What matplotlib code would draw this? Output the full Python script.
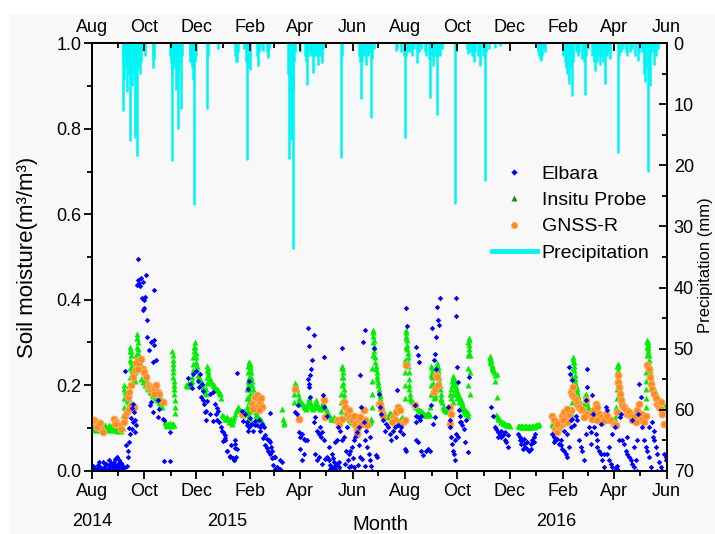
import numpy as np
import pandas as pd
import matplotlib
matplotlib.use("Agg")
import matplotlib.pyplot as plt
import matplotlib.dates as mdates
from matplotlib.lines import Line2D
from matplotlib.patches import Rectangle

START = pd.Timestamp("2014-08-01")

# Elbara radiometer retrievals: (day since 1 Aug 2014, soil moisture m3/m3)
ELBARA = [
    (0.0, .004), (2.3, .009), (3.1, .002), (5.1, .002), (7.0, .014), (9.0, .020), (10.1, .008),
    (11.7, .002), (12.8, .020), (14.8, .006), (16.7, .016), (18.7, .004), (20.6, .024), (21.8, .005),
    (23.3, .012), (25.7, .020), (27.2, .028), (28.4, .008), (29.6, .032), (31.1, .016), (32.3, .024),
    (33.5, .008), (35.0, .012), (36.2, .004), (38.1, .006), (41.2, .011),
    (1.5, .012), (4.2, .006), (6.1, .003), (8.3, .010), (13.6, .004), (15.9, .011), (17.5, .002),
    (19.6, .013), (22.4, .018), (24.5, .004), (26.4, .014), (30.3, .006), (34.1, .018), (37.0, .010),
    (39, .233), (40.5, .060), (42, .045), (43, .067), (44, .100), (45, .086), (45.5, .124), (46.5, .147),
    (48, .155), (49, .137), (50, .090), (51, .118), (52, .108), (42.8, .032), (46.7, .098), (47.8, .114),
    (52.9, .434), (53.7, .446), (54.5, .495), (55.6, .438), (56.8, .431), (57.6, .450), (58.3, .403),
    (59.5, .442), (59.5, .376), (60.7, .399), (61.5, .380), (62.2, .407), (63.4, .458), (64.6, .352),
    (73.1, .423), (64.6, .313), (67.3, .282), (69.2, .301), (72.3, .305), (73.1, .294), (71.2, .255),
    (75.1, .258), (69.2, .161), (71.2, .137), (68.5, .153), (77.0, .165), (79.0, .145), (77.8, .126),
    (82.9, .122), (84.8, .118), (91.8, .090), (84.0, .022), (91.8, .022),
    (112.4, .218), (114.3, .202), (116.3, .194), (118.2, .226), (122.1, .233), (124.1, .210), (126.0, .226),
    (128.0, .202), (129.9, .186), (130.7, .155), (133.0, .140), (133.8, .163), (137.7, .132), (141.6, .116),
    (145.5, .147), (147.4, .139), (151.3, .093), (153.2, .069), (155.2, .077), (157.1, .046), (161.0, .034),
    (164.9, .030), (166.8, .053), (169.6, .229), (174.6, .140), (176.6, .116), (180.5, .108), (184.4, .124),
    (188.2, .093), (190.2, .116), (192.1, .108), (196.0, .093), (199.9, .077), (201.9, .061), (203.8, .054),
    (205.7, .046), (207.7, .038), (209.6, .030), (211.6, .014), (213.5, .003), (215.5, .007), (217.4, .000),
    (219.4, .003), (182.5, .190), (183.5, .210),
    (125.6, .196), (127.6, .172), (129.5, .165), (131.5, .137), (133.4, .118), (137.3, .180), (141.2, .184),
    (143.1, .157), (145.1, .133), (146.3, .118), (147.8, .114), (150.9, .102), (152.9, .090), (154.8, .083),
    (155.6, .071), (158.0, .047), (160.7, .032), (162.6, .059), (165.7, .024), (167.3, .071),
    (167.3, .063), (169.2, .051), (165.3, .024), (168.1, .032), (179.0, .133), (180.9, .114), (182.9, .102),
    (184.8, .106), (182.1, .094), (186.7, .110), (190.6, .106), (194.5, .118), (196.5, .102), (198.4, .110),
    (200.4, .102), (202.3, .083), (204.2, .075), (206.2, .071), (208.1, .135), (208.1, .067), (209.3, .055),
    (210.1, .047), (212.0, .032), (214.0, .033), (215.9, .008), (217.9, .000), (219.8, .024), (221.8, .020),
    (237.3, .137), (239.3, .133), (240.4, .153), (241.2, .090), (243.1, .079), (245.1, .086), (247.0, .075),
    (249.0, .071), (243.1, .051), (247.0, .040), (245.1, .024), (250.9, .071), (252.1, .215), (253.6, .204),
    (254.8, .223), (256.0, .239), (256.8, .258), (252.9, .196), (253.6, .291), (252.1, .333), (258.7, .317),
    (254.8, .172), (258.7, .114), (260.7, .126), (262.6, .094), (264.5, .086), (266.5, .102), (268.4, .090),
    (270.4, .266), (269.2, .176), (267.7, .079), (270.4, .071), (260.7, .040), (262.6, .024), (265.3, .032),
    (268.4, .016), (272.3, .028), (270.4, .149), (274.3, .129),
    (274.3, .032), (276.2, .024), (278.2, .014), (280.1, .008), (282.0, .020), (284.0, .004), (285.9, .016),
    (287.9, .008), (289.8, .000), (276.2, .055), (284.0, .067), (280.1, .040), (285.9, .071), (291.8, .071),
    (293.7, .079), (291.8, .286), (289.8, .094), (287.1, .102), (297.6, .102), (299.6, .040), (301.5, .047),
    (303.4, .055), (305.4, .071), (307.3, .079), (309.3, .090), (311.2, .102), (313.2, .223), (314.3, .149),
    (315.9, .301), (317.1, .114), (319.0, .329), (319.0, .071), (321.0, .055), (322.9, .040), (324.8, .024),
    (326.8, .000), (328.7, .286), (330.7, .036), (332.6, .032), (313.2, .032), (305.4, .008), (307.3, .000),
    (299.6, .008), (315.1, .028),
    (277.5, .004), (281.2, .030), (283.1, .012), (288.6, .020), (294.8, .016), (296.5, .045),
    (298.4, .024), (302.6, .012), (304.3, .030), (310.2, .014), (312.0, .060), (318.0, .010),
    (320.0, .092), (323.8, .078), (325.9, .012),
    (334.6, .180), (336.2, .149), (337.3, .133), (339.3, .118), (341.2, .094), (343.2, .110), (345.1, .102),
    (347.1, .086), (349.0, .071), (351.0, .094), (352.9, .102), (354.8, .079), (355.6, .188), (356.8, .106),
    (358.7, .094), (360.7, .102), (362.6, .086), (364.6, .051), (365.7, .047), (366.5, .380), (367.3, .338),
    (378.2, .290), (380.1, .270), (381.3, .255), (376.2, .153), (377.4, .129), (380.1, .126), (382.1, .118),
    (384.0, .129), (378.2, .114), (377.4, .071), (380.1, .067), (384.0, .047), (386.0, .036), (389.9, .047),
    (391.8, .051), (393.7, .047), (395.7, .153), (396.9, .333), (398.4, .258), (399.6, .274), (400.7, .239),
    (401.5, .313), (403.5, .352), (404.6, .341), (405.4, .403), (402.3, .384), (397.6, .110), (399.6, .126),
    (415.1, .149), (417.1, .118), (417.9, .102), (419.0, .079), (420.2, .063), (421.0, .047), (421.7, .040),
    (422.9, .024), (424.1, .403), (424.9, .362), (425.6, .243), (426.8, .208), (428.0, .141), (428.8, .114),
    (430.7, .114), (431.9, .106), (433.4, .098), (434.6, .067), (435.8, .118), (438.5, .043), (439.6, .219),
    (424.9, .086), (422.9, .071), (426.8, .079), (429.5, .129),
    (465.7, .149), (467.7, .129), (469.6, .102), (471.5, .098), (473.5, .090), (475.4, .086), (477.4, .079),
    (479.3, .083), (481.3, .071), (483.2, .067), (485.2, .055), (473.5, .079), (477.4, .094), (481.3, .090),
    (485.2, .083),
    (496.8, .086), (498.8, .071), (500.7, .063), (502.7, .051), (499.6, .079), (501.5, .071), (503.5, .063),
    (505.4, .055), (507.4, .051), (509.3, .047), (511.3, .063), (513.2, .071), (515.2, .079), (517.1, .086),
    (507.4, .067), (511.3, .051), (503.5, .075), (515.2, .067),
    (536.6, .086), (538.5, .079), (540.4, .071), (542.4, .075), (544.3, .063), (546.3, .059), (548.2, .051),
    (550.2, .047), (552.1, .040), (554.1, .032), (556.0, .055), (558.0, .102), (538.5, .067), (546.3, .071),
    (554.1, .086), (550.2, .094), (558.0, .118), (557.2, .227), (556.0, .243), (559.9, .212), (559.9, .122),
    (561.8, .106), (563.8, .129), (565.7, .118), (567.7, .071), (569.6, .055), (571.6, .047), (573.5, .024),
    (575.5, .165), (576.6, .239), (577.4, .196), (579.3, .102), (581.3, .090), (575.5, .086),
    (583.2, .176), (584.4, .133), (585.2, .102), (587.1, .086), (589.1, .071), (591.0, .047), (593.0, .040),
    (594.9, .024), (596.9, .008), (598.8, .149), (600.0, .141), (589.1, .055), (596.9, .040), (593.7, .110),
    (581.3, .063),
    (600.7, .040), (602.7, .024), (604.6, .016), (606.6, .008), (608.5, .000), (610.5, .008), (611.6, .004),
    (612.4, .012), (614.4, .071), (615.5, .126), (616.3, .133), (609.3, .102), (606.6, .086), (602.7, .055),
    (618.2, .071), (620.2, .063), (622.1, .047), (624.1, .040), (626.0, .032), (628.0, .024), (629.9, .016),
    (631.9, .008), (633.8, .024), (635.8, .071), (636.9, .133), (637.7, .204), (639.6, .172), (629.9, .118),
    (624.1, .079), (631.9, .055), (635.8, .000),
    (641.6, .102), (643.5, .071), (645.5, .055), (647.4, .047), (649.4, .032), (651.3, .008), (653.3, .114),
    (654.4, .079), (655.2, .071), (657.1, .055), (659.1, .040), (661.0, .020), (663.0, .008), (664.9, .000),
    (666.9, .040), (668.8, .024), (669.5, .032), (649.4, .102), (655.2, .094), (659.1, .000),
]

# In-situ probe readings: (day since 1 Aug 2014, soil moisture m3/m3)
INSITU = [
    (0, .104), (1, .099), (2, .096), (3, .103), (4, .106), (5, .098), (6, .095), (7, .104), (8, .106),
    (9, .099), (10, .095), (11, .103), (12, .106), (13, .099), (14, .096), (15, .104), (16, .106),
    (17, .099), (18, .095), (19, .103), (20, .106), (21, .099), (22, .096), (23, .104), (24, .105),
    (25, .098), (26, .095), (27, .103), (28, .105), (29, .098), (30, .094), (31, .102), (32, .104),
    (33, .097), (34, .093), (35, .099), (36, .101),
    (37, .13), (37.2, .15), (37.4, .17), (37.6, .19), (38, .20), (39, .185), (40, .175), (41, .165),
    (42, .16), (43, .17), (43.5, .18), (44, .20), (44.2, .22), (44.4, .24), (44.6, .26), (44.8, .28),
    (45, .29), (45.3, .28), (45.6, .27), (46, .255), (46.5, .245), (47, .235), (47.5, .228), (48, .22),
    (49, .215), (50, .21), (51, .23), (51.5, .25), (52, .27), (52.4, .29), (52.8, .31), (53, .32),
    (53.3, .31), (53.6, .30), (54, .285), (54.5, .275), (55, .265), (55.5, .257), (56, .25), (57, .245),
    (58, .24), (59, .235), (60, .23), (61, .225), (62, .22), (63, .215), (64, .21), (65, .207), (66, .205),
    (67, .202), (68, .20), (69, .197), (70, .195), (71, .192), (72, .19), (73, .187), (74, .185),
    (75, .182), (76, .18), (77, .177), (78, .175), (79, .172), (80, .17), (81, .167), (82, .165),
    (83, .162), (84, .16), (58, .215), (60, .207), (62, .20), (64, .195), (66, .19), (68, .185),
    (70, .18), (72, .175), (74, .17), (76, .165), (78, .16), (80, .155), (82, .15),
    (85, .115), (86, .108), (87, .112), (88, .105), (89, .11), (90, .106), (91, .112), (92, .107),
    (93, .11), (94, .105), (95, .11), (96, .108),
    (94, .28), (94.2, .27), (94.4, .26), (94.6, .25), (94.8, .24), (95, .23), (95.2, .22), (95.4, .21),
    (95.6, .20), (95.8, .19), (96, .18), (96.5, .165), (97, .15), (97.5, .135),
    (110, .20), (111, .198), (112, .205), (113, .20), (114, .198), (115, .202), (116, .205),
    (116.5, .21), (117, .22), (117.5, .235), (118, .25), (118.5, .265), (119, .28), (119.5, .29),
    (120, .30), (120.5, .29), (121, .275), (121.5, .265), (122, .255), (122.5, .245), (123, .237),
    (124, .225), (125, .22), (126, .215), (127, .21), (128, .205), (129, .20), (130, .195), (131, .19),
    (132, .185), (133, .18), (133.5, .19), (134, .205), (134.2, .22), (134.4, .235), (134.6, .245),
    (135, .24), (135.5, .232), (136, .225), (137, .22), (138, .215), (139, .21), (140, .205), (141, .20),
    (142, .20), (143, .198), (144, .195), (145, .192), (146, .19), (147, .188), (148, .185), (149, .182),
    (150, .18), (151, .17),
    (152, .13), (153, .128), (154, .125), (155, .122), (156, .12), (157, .123), (158, .125), (159, .12),
    (160, .115), (161, .118), (162, .12), (163, .115), (164, .11), (165, .118), (166, .125), (167, .132),
    (168, .14), (169, .145), (170, .15), (171, .148), (172, .145), (173, .142), (174, .14), (175, .135),
    (176, .13), (177, .135), (178, .14), (179, .138), (180, .135),
    (180.5, .15), (181, .17), (181.3, .19), (181.6, .21), (182, .23), (182.5, .245), (183, .255),
    (183.5, .255), (184, .25), (184.5, .245), (185, .24), (185.5, .23), (186, .22), (186.5, .21),
    (187, .20), (187.5, .19), (188, .18), (188.5, .17), (189, .16), (189.5, .152), (190, .145),
    (182, .20), (182, .17), (182, .14), (182, .12), (183, .22), (183, .19), (183, .16), (183, .13),
    (184, .21), (184, .18), (184, .15), (184, .12), (185, .20), (185, .17), (185, .14),
    (191, .138), (192, .13), (193, .128), (194, .125), (195, .122), (196, .12), (197, .118), (198, .115),
    (199, .112), (200, .11),
    (222, .145), (223, .12), (223.5, .115), (224, .11),
    (235.5, .16), (236, .18), (236.5, .195), (237, .205), (238, .20), (239, .19), (240, .18), (241, .17),
    (242, .165), (243, .162), (244, .16), (245, .157), (246, .155), (247, .152), (248, .15), (249, .148),
    (250, .145), (251, .152), (252, .16), (253, .17), (254, .16), (255, .155), (256, .15), (257, .148),
    (258, .145), (259, .15), (260, .155), (261, .165), (262, .155), (263, .152), (264, .15), (265, .148),
    (266, .145), (267, .148), (268, .15), (269, .155), (270, .16), (271, .155), (272, .15), (273, .145),
    (274, .14), (275, .135), (276, .13), (277, .128), (278, .125), (279, .122), (280, .12), (281, .122),
    (282, .125), (283, .122), (284, .12), (285, .118), (286, .118), (287, .12), (288, .12), (289, .122),
    (290, .125),
    (290.5, .14), (290.8, .16), (291, .18), (291.2, .20), (291.4, .22), (291.6, .24), (291.8, .245),
    (292, .24), (292.3, .23), (292.6, .22), (293, .205), (293.5, .19), (294, .18), (294.5, .17),
    (295, .16), (296, .15), (297, .14), (298, .13), (299, .125), (300, .12), (301, .118), (302, .115),
    (303, .118), (304, .12), (305, .115), (306, .11), (307, .112), (308, .115), (309, .112), (310, .11),
    (311, .115), (312, .12), (313, .118), (314, .115), (315, .112), (316, .11), (317, .115), (318, .12),
    (319, .118), (320, .115), (321, .112), (322, .11), (323, .112), (324, .115), (325, .118), (326, .12),
    (326.5, .15), (326.7, .18), (326.9, .21), (327.1, .24), (327.3, .27), (327.5, .30), (327.7, .33),
    (328, .325), (328.3, .315), (328.6, .305), (329, .29), (329.5, .28), (330, .265), (330.5, .255),
    (331, .245), (331.5, .237), (332, .23), (332.5, .222), (333, .215), (333.5, .207), (334, .20),
    (334.5, .192), (335, .185), (335.5, .177), (336, .17), (336.5, .165), (337, .16), (337.5, .155),
    (338, .15), (339, .142), (340, .136), (341, .132), (342, .13), (343, .128), (344, .125), (345, .128),
    (346, .13), (347, .132), (348, .135), (349, .132), (350, .13), (351, .125), (352, .12), (353, .118),
    (354, .115), (355, .118), (356, .12), (357, .118), (358, .115), (359, .118), (360, .12), (361, .122),
    (362, .125), (363, .122), (364, .12),
    (365, .17), (365.2, .20), (365.4, .23), (365.6, .26), (365.8, .29), (366, .31), (366.2, .33),
    (366.5, .325), (366.8, .315), (367, .305), (367.3, .295), (367.6, .285), (368, .275), (368.3, .265),
    (368.6, .255), (369, .245), (369.3, .23), (369.6, .215), (370, .20), (370.3, .19), (370.6, .18),
    (371, .17), (372, .165), (373, .162), (374, .16), (375, .157), (376, .155), (377, .152), (378, .15),
    (379, .148), (380, .145), (381, .142), (382, .14), (383, .14), (384, .14), (385, .138), (386, .135),
    (387, .132), (388, .13), (389, .13), (390, .13), (391, .132), (392, .135), (393, .132), (394, .13),
    (394.5, .15), (394.8, .18), (395, .20), (395.3, .225), (395.6, .245), (396, .24), (396.5, .23),
    (397, .22), (397.5, .205), (398, .19), (398.5, .18), (399, .17), (399.5, .172), (400, .18),
    (400.5, .20), (401, .22), (401.5, .24), (402, .252), (402.5, .248), (403, .243), (403.5, .236),
    (404, .23), (404.5, .22), (405, .21), (405.5, .20), (406, .19), (406.5, .18), (407, .17),
    (407.5, .165), (408, .16), (409, .15), (410, .148), (411, .145), (412, .142), (413, .14), (414, .14),
    (415, .14), (417, .18),
    (418.5, .17), (419, .19), (419.5, .20), (420, .21), (420.5, .215), (421, .22), (421.5, .222),
    (422, .218), (422.5, .212), (423, .206), (423.5, .20), (424, .195), (424.5, .192), (425, .19),
    (425.5, .187), (426, .185), (427, .18), (428, .175), (429, .17), (430, .165), (431, .16), (432, .155),
    (433, .15), (434, .145), (435, .142), (436, .14), (437, .138), (438, .135),
    (421, .20), (421, .18), (421, .16), (422, .20), (424, .18), (426, .17), (428, .16), (430, .152),
    (432, .145), (434, .137), (436, .132), (438, .128),
    (438.3, .20), (438.5, .24), (438.7, .27), (439, .30), (439.2, .31), (439.4, .305), (439.6, .295),
    (439.8, .285), (440, .275), (440.3, .27), (440.6, .23), (441, .18),
    (463.8, .255), (464, .262), (464.3, .268), (464.6, .265), (465, .258), (465.5, .252), (466, .247),
    (466.5, .243), (467, .24), (467.5, .237), (468, .235), (468.5, .23), (469.5, .225), (470, .21),
    (472.3, .227), (472.5, .172),
    (471, .13), (472.5, .127), (473.5, .125), (474, .122), (475, .12), (476, .118), (477, .115),
    (478, .114), (479, .112), (480, .111), (481, .11), (482, .109), (483, .108), (484, .107), (485, .106),
    (486, .106), (487, .105),
    (497, .105), (498, .104), (499, .103), (500, .104), (501, .104), (502, .103), (503, .102), (504, .103),
    (505, .104), (506, .104), (507, .103), (508, .103), (509, .104), (510, .103), (511, .102), (512, .103),
    (513, .104), (514, .104), (515, .103), (516, .104), (517, .105), (518, .106), (519, .106), (520, .108),
    (521, .11),
    (536, .11), (537, .108), (538, .108), (539, .11), (540, .112), (541, .111), (542, .11), (543, .109),
    (544, .108), (545, .11), (546, .112), (547, .111), (548, .11), (549, .112), (550, .115), (551, .118),
    (552, .12), (553, .122), (554, .125), (555, .128), (556, .13), (557, .132), (558, .135),
    (559, .14), (559.3, .16), (559.6, .18), (559.9, .20), (560.2, .22), (560.5, .24), (560.8, .255),
    (561, .265), (561.3, .262), (561.6, .255), (562, .245), (562.4, .235), (562.8, .225), (563.2, .215),
    (563.6, .207), (564, .20), (564.5, .195), (565, .19), (565.5, .185), (566, .18), (566.5, .175),
    (567, .17), (567.5, .165), (568, .162), (569, .157), (570, .153), (571, .15), (572, .147), (573, .145),
    (574, .155), (574.5, .165), (575, .178), (575.5, .18), (576, .172), (576.5, .165), (577, .158),
    (578, .15), (579, .145), (580, .14), (581, .138), (582, .135), (583, .132), (584, .13), (585, .128),
    (586, .125), (587, .122), (588, .12), (589, .122), (590, .125), (591, .128), (592, .13), (593, .128),
    (594, .125), (595, .122), (596, .12), (597, .122), (598, .125), (599, .122), (600, .12), (601, .119),
    (602, .118), (603, .12), (604, .122), (605, .121), (606, .12), (607, .119), (608, .118), (609, .119),
    (610, .12),
    (611, .13), (611.3, .15), (611.6, .17), (611.9, .19), (612.1, .21), (612.3, .23), (612.5, .245),
    (612.7, .25), (613, .245), (613.3, .235), (613.6, .225), (614, .215), (614.5, .205), (615, .197),
    (615.5, .19), (616, .183), (616.5, .177), (617, .171), (617.5, .166), (618, .162), (619, .158),
    (620, .155), (621, .152), (622, .15), (623, .148), (624, .145), (625, .142), (626, .14), (627, .139),
    (628, .138), (629, .136), (630, .135), (631, .132), (632, .13), (633, .129), (634, .128), (635, .126),
    (636, .125), (637, .123), (638, .122), (639, .121), (640, .12), (641, .119), (642, .118), (643, .119),
    (644, .12),
    (645, .13), (645.3, .15), (645.6, .17), (645.9, .19), (646.1, .21), (646.3, .23), (646.5, .25),
    (646.7, .27), (646.9, .29), (647.1, .30), (647.4, .305), (647.7, .30), (648, .295), (648.3, .288),
    (648.6, .28), (649, .27), (649.4, .26), (649.8, .25), (650.2, .242), (650.6, .235), (651, .228),
    (651.5, .22), (652, .213), (652.5, .207), (653, .20), (654, .195), (655, .19), (656, .186),
    (657, .182), (658, .178), (659, .175), (660, .172), (661, .168), (662, .165), (663, .162), (664, .16),
    (665, .157), (666, .155), (667, .153), (668, .152), (669, .151), (670, .15),
]

# GNSS-R retrievals: (day since 1 Aug 2014, soil moisture m3/m3)
GNSS_R = [
    (3.1, .118), (5.1, .114), (7.0, .110), (9.0, .106), (10.9, .098), (12.8, .090), (6.2, .102),
    (10.1, .111), (25.7, .122), (28.4, .114), (32.3, .106), (34.2, .098), (37.3, .114), (27.2, .110),
    (38.9, .129), (41.2, .137), (44.0, .145), (42.0, .172), (44.0, .184), (45.9, .200), (47.8, .219),
    (49.0, .149), (45.9, .153), (51.7, .251), (53.7, .258), (55.6, .247), (57.6, .262), (59.5, .239),
    (61.5, .231), (63.4, .219), (50.6, .235), (54.5, .239), (65.4, .200), (67.3, .196), (69.2, .192),
    (71.2, .196), (73.1, .192), (75.1, .200), (77.0, .184), (79.0, .180), (82.9, .161), (72.4, .180),
    (175.1, .133), (186.7, .157), (188.7, .169), (190.6, .172), (192.6, .176), (194.5, .165), (196.5, .157),
    (198.4, .149), (191.4, .149), (194.5, .141), (197.6, .169), (187.5, .145),
    (237.3, .192), (241.2, .122), (270.4, .165), (272.3, .126), (285.9, .118), (287.9, .110), (291.8, .122),
    (293.7, .161), (295.7, .149), (297.6, .133), (301.5, .126), (303.4, .118), (307.3, .110), (309.3, .098),
    (311.2, .118), (315.1, .110), (317.1, .141), (319.0, .118), (321.0, .106), (309.3, .086), (305.4, .129),
    (299.6, .141), (313.2, .126), (334.6, .157),
    (335.4, .157), (337.3, .145), (339.3, .129), (351.0, .126), (352.9, .118), (354.8, .137), (356.8, .149),
    (358.7, .141), (362.6, .114), (364.6, .118), (350.2, .114), (365.7, .247), (376.2, .153),
    (398.4, .184), (399.6, .192), (400.7, .223), (402.3, .219), (403.5, .200), (417.9, .149), (419.0, .133),
    (417.1, .110),
    (536.6, .129), (538.5, .118), (540.4, .098), (542.4, .090), (544.3, .102), (546.3, .114), (548.2, .129),
    (550.2, .137), (552.1, .126), (554.1, .114), (556.0, .133), (558.0, .141), (545.5, .106), (541.6, .110),
    (549.4, .118), (553.3, .145), (558.7, .184), (559.9, .176), (561.8, .172), (563.8, .165), (565.7, .157),
    (567.7, .149), (561.1, .196), (569.6, .141), (571.6, .145), (575.5, .165), (577.4, .133), (573.5, .126),
    (581.3, .133), (583.2, .122), (585.2, .141), (587.1, .157), (589.1, .149), (591.0, .133), (593.0, .126),
    (594.9, .114), (596.9, .118), (588.3, .118), (598.8, .133), (600.7, .129), (604.6, .118), (608.5, .110),
    (610.5, .106), (613.2, .223), (613.6, .208), (614.4, .196), (615.5, .180), (616.3, .165), (618.2, .153),
    (620.2, .149), (612.4, .137), (622.1, .141), (624.1, .133), (626.0, .137), (628.0, .129), (629.9, .118),
    (631.9, .126), (633.8, .114), (635.8, .141), (637.7, .157), (639.6, .133), (641.6, .122), (643.5, .114),
    (645.5, .129), (647.4, .247), (649.4, .239), (650.5, .219), (652.1, .204), (653.3, .192), (655.2, .180),
    (657.1, .169), (659.1, .157), (661.0, .149), (663.0, .145), (664.9, .133), (666.9, .110), (663.0, .161),
]

# Daily precipitation: (day since 1 Aug 2014, mm)
RAIN = [
    (36, 3), (37, 11.1), (38, 6), (39, 2.5), (40, 4), (41, 8), (42, 3), (43, 5), (44, 2), (45, 16.0),
    (46, 4), (47, 7), (48, 3), (49, 5), (50, 15.5), (51, 6), (52, 3), (53, 18.5), (54, 4), (55, 2),
    (56, 5), (57, 3), (58, 1.5), (60, 1), (62, 2), (71, 2), (72, 4), (73, 2.5),
    (91, 2), (92, 3), (93, 5), (94, 19.3), (95, 3), (96, 4), (97, 2), (98, 7.6), (99, 3), (100, 14.1),
    (101, 5), (102, 3), (103, 2), (104, 10.8), (105, 2),
    (114, 2), (115, 3), (116, 3), (117, 4), (118, 6), (119, 26.5), (120, 3), (121, 2), (134, 10.8),
    (135, 2), (147, 1),
    (167, 2), (168, 3), (169, 3), (170, 1.5), (178, 1), (180, 3), (181, 19.1), (182, 4), (183, 2.5),
    (184, 4.3), (185, 2), (193, 2), (194, 3.7), (195, 1.5), (199, 1), (200, 1.2), (204, 1.5), (205, 2),
    (206, 2.4), (207, 1),
    (229, 5), (230, 19), (231, 8), (232, 15.8), (233, 12), (234, 33.7), (235, 8), (236, 3), (237, 1.5),
    (243, 1.5), (249, 2), (250, 3), (251, 6.9), (252, 2), (254, 1.5), (256, 2), (258, 4.8), (260, 2),
    (262, 2), (264, 3.5), (266, 2), (268, 3.2), (270, 1),
    (291, 18.8), (292, 2), (311, 2), (313, 3), (314, 9.2), (315, 3), (317, 2), (320, 3.5), (322, 2),
    (324, 1.5), (326, 12.2), (327, 2.5), (329, 1),
    (355, 1.3), (356, 1), (360, 1.5), (364, 2), (365, 15.5), (366, 2), (368, 1.5), (371, 1.5), (373, 2),
    (375, 1), (379, 3.2), (381, 1.5), (384, 1), (388, 1.5), (390, 2), (393, 2.5), (394, 8.9), (396, 2),
    (398, 3.7), (400, 2), (402, 11.7), (404, 2), (406, 2), (408, 1),
    (423, 26.3), (424, 1.5), (437, 1), (439, 1.8), (441, 1.5), (443, 2), (445, 3), (447, 1.5), (450, 2),
    (453, 3.7), (456, 2), (458, 22.6), (459, 1.5), (463, 1), (470, 0.8), (476, 0.5),
    (520, 1.5), (521, 2), (522, 2.5), (523, 2.9), (525, 2), (527, 1), (528, 1.5),
    (549, 2), (551, 3), (553, 4), (554, 5), (555, 3), (556, 6.7), (557, 4), (559, 3), (560, 8.7),
    (561, 3), (564, 1.5), (567, 2), (568, 1.5), (571, 2.5), (574, 3), (575, 8.4), (576, 2), (578, 1),
    (583, 2), (585, 3), (586, 2), (587, 4.5), (589, 3), (590, 2), (592, 3.5), (594, 2), (596, 3),
    (598, 6.7), (600, 2), (602, 1.5), (604, 2.5),
    (613, 18), (614, 2), (617, 1.5), (619, 1), (622, 1.5), (624, 2), (627, 1.5), (630, 1), (633, 2),
    (636, 2.9), (638, 1.5), (641, 1.5), (643, 3), (644, 5), (645, 6.4), (646, 4), (648, 21), (649, 3),
    (650, 7), (651, 2), (653, 1.5), (655, 3.5), (657, 2), (660, 1),
]

SERIES_LABELS = ["Elbara", "Insitu Probe", "GNSS-R", "Precipitation"]
YEAR_LABELS = [("2014", "2014-08-01"), ("2015", "2015-01-06"), ("2016", "2016-01-24")]

C_ELBARA = "#0000ff"
C_INSITU = "#00ee00"
C_INSITU_KEY = "#128a12"
C_GNSS = "#ff8a1f"
C_GNSS_EDGE = "#ffb066"
C_RAIN = "#00f4f4"
BG = "#f8f8f8"


def to_dates(days):
    return (START + pd.to_timedelta(np.asarray(days, dtype=float), unit="D")).to_numpy()


def split(points):
    d, v = zip(*points)
    return to_dates(d), np.asarray(v)


plt.rcParams["font.family"] = ["Liberation Sans", "DejaVu Sans"]

W, H = 715, 534
fig = plt.figure(figsize=(W / 100, H / 100), dpi=100)
fig.patches.append(Rectangle((10 / W, 0), 1, 1 - 14 / H, transform=fig.transFigure,
                             facecolor=BG, edgecolor="none", zorder=-10))

ax_l, ax_r, ax_t, ax_b = 91.7, 666.7, 43.3, 470.7
ax = fig.add_axes([ax_l / W, 1 - ax_b / H, (ax_r - ax_l) / W, (ax_b - ax_t) / H])
ax.set_facecolor(BG)

x, y = split(INSITU)
ax.plot(x, y, ls="none", marker="^", ms=4.3, mfc=C_INSITU, mec="none", zorder=2)
x, y = split(GNSS_R)
ax.plot(x, y, ls="none", marker="o", ms=5.0, mfc=C_GNSS, mec=C_GNSS_EDGE, mew=0.7, zorder=3)
x, y = split(ELBARA)
ax.plot(x, y, ls="none", marker="D", ms=2.8, mfc=C_ELBARA, mec="none", zorder=4)

ax.set_xlim(np.datetime64("2014-08-01"), np.datetime64("2016-06-01"))
ax.set_ylim(0, 1.0)
ax.xaxis.set_major_locator(mdates.MonthLocator(bymonth=[2, 4, 6, 8, 10, 12]))
ax.xaxis.set_minor_locator(mdates.MonthLocator())
ax.xaxis.set_major_formatter(mdates.DateFormatter("%b"))
ax.yaxis.set_major_locator(plt.MultipleLocator(0.2))
ax.yaxis.set_minor_locator(plt.MultipleLocator(0.1))
ax.yaxis.set_major_formatter(plt.FormatStrFormatter("%.1f"))

# precipitation hangs from the top on an inverted right-hand axis
ax2 = ax.twinx()
rx, rmm = split(RAIN)
ax2.vlines(rx, 0, rmm, color=C_RAIN, lw=1.8, zorder=1)
ax2.set_ylim(70, 0)
ax2.yaxis.set_major_locator(plt.MultipleLocator(10))
ax2.yaxis.set_minor_locator(plt.MultipleLocator(5))

# month labels repeated along the top through the twin's x-axis
ax2.xaxis.set_visible(True)
ax2.xaxis.set_ticks_position("top")

for s in list(ax.spines.values()) + list(ax2.spines.values()):
    s.set_linewidth(1.3)

ax.tick_params(axis="x", which="both", direction="out", top=False, bottom=True,
               labelbottom=True, labeltop=False, labelsize=13, pad=2.5, width=1.3)
ax.tick_params(axis="x", which="major", length=6)
ax.tick_params(axis="x", which="minor", length=3.5)
ax.tick_params(axis="y", which="both", direction="out", labelsize=13, pad=1.5, width=1.3)
ax.tick_params(axis="y", which="major", length=6)
ax.tick_params(axis="y", which="minor", length=3.5)
ax2.tick_params(axis="x", which="both", direction="in", top=True, bottom=False,
                labeltop=True, labelbottom=False, labelsize=13, pad=5, width=1.3)
ax2.tick_params(axis="x", which="major", length=6)
ax2.tick_params(axis="x", which="minor", length=3.5)
ax2.tick_params(axis="y", which="both", direction="in", labelsize=13, pad=5, width=1.3)
ax2.tick_params(axis="y", which="major", length=6)
ax2.tick_params(axis="y", which="minor", length=3.5)

for label, when in YEAR_LABELS:
    ax.text(np.datetime64(when), -0.1177, label, transform=ax.get_xaxis_transform(),
            ha="center", va="center", fontsize=13)

fig.text(380 / W, 1 - 515 / H, "Month", ha="center", va="top", fontsize=14.5)
fig.text(28 / W, 1 - 257 / H, "Soil moisture(m³/m³)", rotation=90,
         ha="center", va="center", fontsize=16)
fig.text(705.5 / W, 1 - 265 / H, "Precipitation (mm)", rotation=90,
         ha="center", va="center", fontsize=12)

handles = [
    Line2D([], [], ls="none", marker="D", ms=3.2, mfc=C_ELBARA, mec="none"),
    Line2D([], [], ls="none", marker="^", ms=4.2, mfc=C_INSITU_KEY, mec="none"),
    Line2D([], [], ls="none", marker="o", ms=4.5, mfc=C_GNSS, mec=C_GNSS_EDGE, mew=0.6),
    Line2D([], [], color=C_RAIN, lw=3.5),
]
ax2.legend(handles, SERIES_LABELS, loc="upper left", bbox_to_anchor=(492 / W, 1 - 165 / H),
           bbox_transform=fig.transFigure, frameon=False, fontsize=14, handlelength=2.3,
           handletextpad=0.25, labelspacing=0.45, borderpad=0, borderaxespad=0)

fig.savefig("out.png", dpi=100, facecolor="white")
